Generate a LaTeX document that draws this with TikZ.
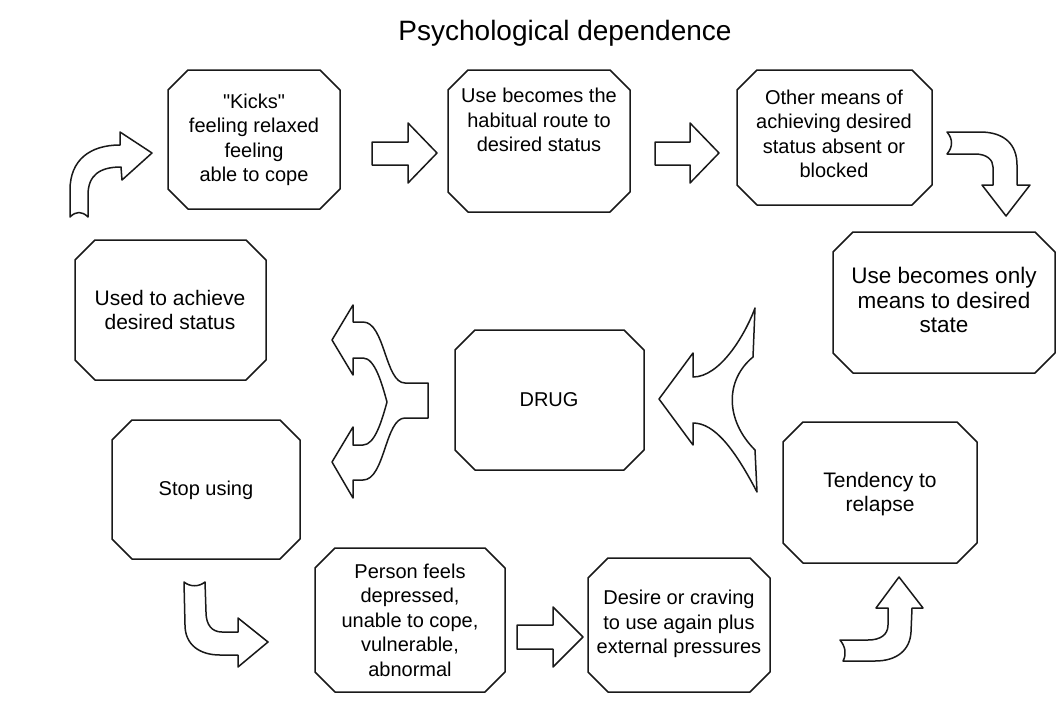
\documentclass[tikz,border=0pt]{standalone}
\usepackage{fontspec}
\setmainfont{Liberation Sans}
\newfontfamily\rawquote{Liberation Sans}
\newcommand\straightq{{\rawquote"}}
\newcommand\octobox[4]{\draw[shapeline] (#1+20,#2) -- (#3-20,#2) -- (#3,#2+20) -- (#3,#4-20) -- (#3-20,#4) -- (#1+20,#4) -- (#1,#4-20) -- (#1,#2+20) -- cycle;}
\begin{document}
\begin{tikzpicture}[x=1pt,y=-1pt,
  shapeline/.style={line width=1.5pt, line join=round, draw=black!90, fill=white},
  boxtext/.style={align=center, font=\fontsize{20}{24.5}\selectfont, inner sep=0pt},
  bigtext/.style={boxtext, font=\fontsize{21}{24.5}\selectfont},
  biggertext/.style={boxtext, font=\fontsize{22.5}{24.5}\selectfont},
  titletext/.style={font=\fontsize{28}{32}\selectfont, inner sep=0pt}
]
\useasboundingbox (0,0) rectangle (1062,712);
\fill[white] (0,0) rectangle (1062,712);

% title
\node[titletext] (title) at (565,33) {Psychological dependence};

% boxes
\octobox{168}{70}{340}{209}
\octobox{448}{70}{630}{212}
\octobox{737}{70}{932}{205}
\octobox{833}{232}{1055}{373}
\octobox{75}{240}{266}{380}
\octobox{455}{330}{644}{470}
\octobox{112}{420}{300}{559}
\octobox{783}{422}{977}{563}
\octobox{315}{548}{505}{692}
\octobox{588}{558}{770}{692}

% texts
\node[boxtext] (kicks) at (254,140) {\straightq Kicks\straightq\\feeling relaxed\\feeling\\able to cope};
\node[boxtext] (habit) at (539,120) {Use becomes the\\habitual route to\\desired status};
\node[boxtext] (other) at (834,134) {Other means of\\achieving desired\\status absent or\\blocked};
\node[biggertext] (only) at (944,300) {Use becomes only\\means to desired\\state};
\node[bigtext] (used) at (170,310) {Used to achieve\\desired status};
\node[boxtext] (drug) at (549,400) {DRUG};
\node[boxtext] (stop) at (206,490) {Stop using};
\node[bigtext] (relapse) at (880,494) {Tendency to\\relapse};
\node[boxtext] (person) at (410,620) {Person feels\\depressed,\\unable to cope,\\vulnerable,\\abnormal};
\node[boxtext] (desire) at (679,624) {Desire or craving\\to use again plus\\external pressures};

% straight block arrows
\draw[shapeline] (372,142) -- (408,142) -- (408,123) -- (437,153) -- (408,183) -- (408,165) -- (372,165) -- cycle;
\draw[shapeline] (655,142) -- (690,142) -- (690,123) -- (719,153) -- (690,183) -- (690,165) -- (655,165) -- cycle;
\draw[shapeline] (517,625) -- (553,625) -- (553,607) -- (583,637) -- (553,667) -- (553,649) -- (517,649) -- cycle;

% top-left curved arrow
\draw[shapeline] (70,217) -- (70,190) .. controls (70,160) and (90,145) .. (120,145) -- (120,132) -- (152,153) -- (122,180) -- (121,167) .. controls (100,167) and (88,175) .. (88,195) -- (88,217) .. controls (82,211) and (76,211) .. (70,217) -- cycle;

% top-right curved arrow
\draw[shapeline] (947,132) -- (980,132) .. controls (1005,132) and (1017,145) .. (1017,165) -- (1017,185) -- (1030,185) -- (1006,216) -- (982,185) -- (993,185) -- (993,167) .. controls (993,160) and (987,154) .. (975,154) -- (947,154) .. controls (953,147) and (953,139) .. (947,132) -- cycle;

% bottom-left curved arrow
\draw[shapeline] (184,582) -- (185,625) .. controls (185,645) and (200,655) .. (220,655) -- (238,655) -- (238,667) -- (268,642) -- (238,618) -- (238,632) -- (222,632) .. controls (212,632) and (206,625) .. (206,612) -- (205,582) .. controls (199,587) and (190,587) .. (184,582) -- cycle;

% bottom-right curved arrow
\draw[shapeline] (840,640) -- (868,640) .. controls (880,640) and (888,635) .. (888,625) -- (888,608) -- (876,608) -- (899,577) -- (923,608) -- (912,608) -- (911,632) .. controls (910,650) and (897,661) .. (875,661) -- (843,661) .. controls (847,654) and (845,646) .. (840,640) -- cycle;

% split arrow left of DRUG
\draw[shapeline] (332,340) -- (353,305) -- (353,322) -- (363,322) .. controls (385,322) and (385,383) .. (405,383) -- (428,383) -- (428,418) -- (405,418) .. controls (385,418) and (385,480) .. (363,480) -- (353,480) -- (353,498) -- (332,462) -- (353,427) -- (353,445) -- (363,445) .. controls (375,445) and (382,420) .. (387,402) .. controls (382,384) and (375,358) .. (363,358) -- (353,358) -- (353,375) -- cycle;

% converging arrow right of DRUG
\draw[shapeline] (755,308) -- (753,357) .. controls (725,380) and (725,420) .. (755,450) -- (757,492) .. controls (735,450) and (715,423) .. (693,423) -- (693,445) -- (659,399) -- (693,353) -- (693,377) .. controls (720,377) and (745,335) .. (755,308) -- cycle;
\end{tikzpicture}
\end{document}
